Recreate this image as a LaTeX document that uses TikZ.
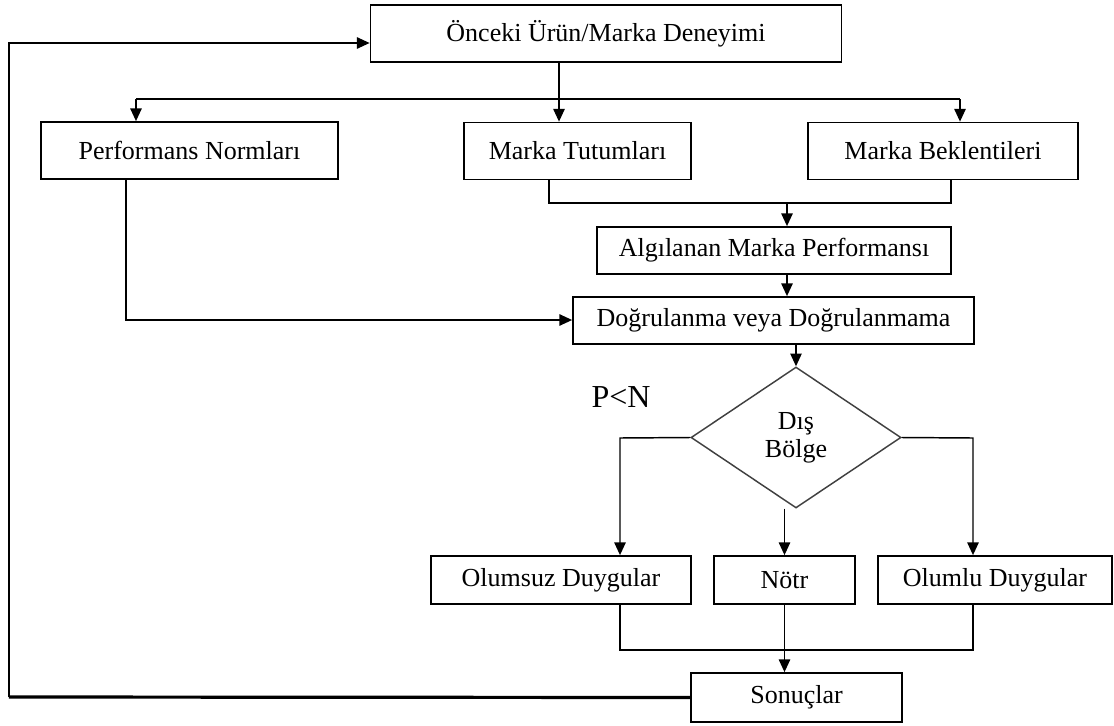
\documentclass[tikz,border=0pt]{standalone}
\usepackage{fontspec}
\setmainfont{Liberation Serif}
\usepackage{tikz}
\usetikzlibrary{arrows.meta}
\usetikzlibrary{shapes.geometric}

\begin{document}
\begin{tikzpicture}[x=0.75pt, y=-0.75pt]

\tikzstyle{box}=[rectangle, draw=black, line width=1.3pt, inner sep=0pt,
  minimum height=42.75pt, font=\fontsize{19.5}{22}\selectfont]
\tikzstyle{decide}=[diamond, draw=black!75, line width=1.1pt, inner sep=0pt,
  minimum width=157.5pt, minimum height=105.75pt, align=center,
  font=\fontsize{19.5}{21}\selectfont]

\tikzstyle{arrseq}=[-{Triangle[length=9.5pt, width=8.5pt]}, line width=1.1pt, draw=black]
\tikzstyle{arrln}=[line width=1.1pt, draw=black]
\tikzstyle{arrfb}=[line width=2.4pt, draw=black]

\useasboundingbox (0,0) rectangle (1114,725);

\node[box, minimum width=353.25pt] (onceki) at (606,33.5) {Önceki Ürün/Marka Deneyimi};
\node[box, minimum width=222.75pt] (norm) at (189.5,150.5) {Performans Normları};
\node[box, minimum width=170.25pt] (tutum) at (577.5,151) {Marka Tutumları};
\node[box, minimum width=202.5pt] (beklenti) at (943,151) {Marka Beklentileri};
\node[box, minimum width=265.5pt, minimum height=35.25pt] (algi) at (774,250.5) {Algılanan Marka Performansı};
\node[box, minimum width=300.75pt, minimum height=35.25pt] (dogru) at (773.5,320.5) {Doğrulanma veya Doğrulanmama};
\node[decide] (dis) at (796,437.5) {Dış\\Bölge};
\node[font=\fontsize{24}{26}\selectfont] (pn) at (621,397) {P<N};
\node[box, minimum width=195pt, minimum height=36pt] (olumsuz) at (561,580) {Olumsuz Duygular};
\node[box, minimum width=105.75pt, minimum height=36pt] (notr) at (784.5,580) {Nötr};
\node[box, minimum width=175.5pt, minimum height=36pt] (olumlu) at (995,580) {Olumlu Duygular};
\node[box, minimum width=158.25pt, minimum height=36.75pt] (sonuc) at (796.5,697.5) {Sonuçlar};

\coordinate (split) at (559,99);
\coordinate (brl) at (136,99);
\coordinate (brr) at (960,99);
\draw[arrseq] (onceki.south -| split) -- (tutum.north -| split);
\draw[arrln] (brl) -- (brr);
\draw[arrseq] (brl) -- (brl |- norm.north);
\draw[arrseq] (brr) -- (brr |- beklenti.north);

\coordinate (jl) at (549,203);
\coordinate (jr) at (951,203);
\coordinate (jm) at (787,203);
\draw[arrln] (tutum.south -| jl) -- (jl) -- (jr) -- (beklenti.south -| jr);
\draw[arrseq] (jm) -- (jm |- algi.north);
\draw[arrseq] (algi.south -| jm) -- (dogru.north -| jm);

\coordinate (nl) at (126,320);
\draw[arrseq] (norm.south -| nl) -- (nl) -- (nl -| dogru.west);

\draw[arrseq] (dogru.south -| dis.north) -- (dis.north);

\coordinate (dl) at (620,438);
\coordinate (dr) at (973,438);
\draw[arrseq] (dis.west) -- (dl) -- (dl |- olumsuz.north);
\draw[arrseq] (dis.east) -- (dr) -- (dr |- olumlu.north);
\draw[arrseq] (notr.north |- dis.south) -- (notr.north);

\coordinate (bl) at (620,650);
\coordinate (br) at (973,650);
\draw[arrln] (olumsuz.south -| bl) -- (bl) -- (br) -- (olumlu.south -| br);
\draw[arrseq] (notr.south) -- (notr.south |- sonuc.north);

\coordinate (fbl) at (9,697);
\coordinate (fbt) at (9,43);
\draw[arrfb] (sonuc.west) -- (fbl);
\draw[arrseq] (fbl) -- (fbt) -- (fbt -| onceki.west);

\end{tikzpicture}
\end{document}
